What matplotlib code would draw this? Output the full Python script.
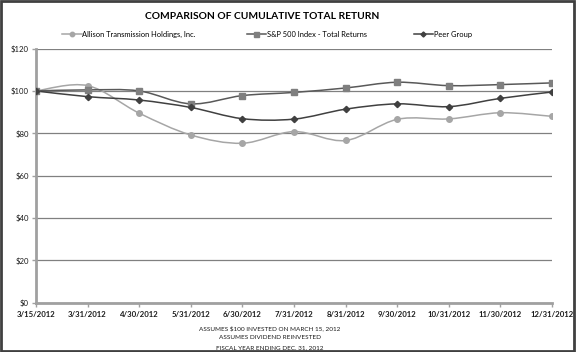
import matplotlib
matplotlib.use("Agg")
import matplotlib.pyplot as plt
import numpy as np
from matplotlib.path import Path
from matplotlib.patches import PathPatch, Rectangle
from matplotlib.lines import Line2D

dates = ["3/15/2012", "3/31/2012", "4/30/2012", "5/31/2012", "6/30/2012", "7/31/2012",
         "8/31/2012", "9/30/2012", "10/31/2012", "11/30/2012", "12/31/2012"]
allison = [100.0, 102.5, 89.5, 79.2, 75.3, 80.8, 76.6, 86.6, 86.8, 89.7, 88.0]
sp500 = [100.0, 100.5, 100.0, 93.9, 97.8, 99.3, 101.4, 104.1, 102.5, 103.0, 103.8]
peer = [100.0, 97.3, 95.7, 92.2, 86.9, 86.7, 91.4, 93.9, 92.6, 96.5, 99.5]
yticks = [0, 20, 40, 60, 80, 100, 120]
ytick_labels = ["$0", "$20", "$40", "$60", "$80", "$100", "$120"]
series_names = ["Allison Transmission Holdings, Inc.", "S&P 500 Index - Total Returns", "Peer Group"]
title = "COMPARISON OF CUMULATIVE TOTAL RETURN"
footnotes = ["ASSUMES $100 INVESTED ON MARCH 15, 2012", "ASSUMES DIVIDEND REINVESTED",
             "FISCAL YEAR ENDING DEC. 31, 2012"]

plt.rcParams['font.family'] = ['Lato', 'DejaVu Sans']
narrow = ['Liberation Sans Narrow', 'Lato', 'DejaVu Sans']

fig = plt.figure(figsize=(5.76, 3.52), dpi=100)
fig.patch.set_facecolor("white")
fig.patches.append(Rectangle((0.002, 0.003), 0.995, 0.994, transform=fig.transFigure,
                             fill=False, edgecolor="#404040", linewidth=2.0))

ax = fig.add_axes([0.0625, 0.14, 0.896, 0.722])


def smooth_path(xs, ys, t=1/6):
    xs = np.asarray(xs, float)
    ys = np.asarray(ys, float)
    n = len(xs)
    verts = [(xs[0], ys[0])]
    codes = [Path.MOVETO]
    for i in range(n - 1):
        p0 = (xs[max(i - 1, 0)], ys[max(i - 1, 0)])
        p1 = (xs[i], ys[i])
        p2 = (xs[i + 1], ys[i + 1])
        p3 = (xs[min(i + 2, n - 1)], ys[min(i + 2, n - 1)])
        c1 = (p1[0] + (p2[0] - p0[0]) * t, p1[1] + (p2[1] - p0[1]) * t)
        c2 = (p2[0] - (p3[0] - p1[0]) * t, p2[1] - (p3[1] - p1[1]) * t)
        verts += [c1, c2, p2]
        codes += [Path.CURVE4] * 3
    return Path(verts, codes)


x = np.arange(len(dates))
styles = [
    (allison, "#a6a6a6", "o", 4.0, "#a6a6a6"),
    (sp500, "#595959", "s", 4.5, "#7f7f7f"),
    (peer, "#404040", "D", 3.2, "#404040"),
]
legend_x = [0.108, 0.428, 0.718]
for (vals, col, mk, ms, mfc), name, lx in zip(styles, series_names, legend_x):
    ax.add_patch(PathPatch(smooth_path(x, vals), facecolor="none", edgecolor=col,
                           linewidth=1.1, zorder=3))
    ax.plot(x, vals, linestyle="none", marker=mk, markersize=ms, color=mfc,
            markeredgecolor=mfc, zorder=4)
    h = Line2D([], [], color=col, linewidth=1.1, marker=mk, markersize=ms * 0.8,
               markerfacecolor=mfc, markeredgecolor=mfc)
    fig.legend([h], [name], loc="center left", bbox_to_anchor=(lx, 0.903), frameon=False,
               fontsize=5.4, handlelength=2.6, handletextpad=0.1, borderpad=0,
               borderaxespad=0)

ax.set_xlim(0, len(dates) - 1)
ax.set_ylim(0, 120)
ax.set_yticks(yticks)
ax.set_yticklabels(ytick_labels, fontsize=5.6, color="#1a1a1a")
ax.set_xticks(x)
ax.set_xticklabels(dates, fontsize=5.6, fontweight="bold", color="#1a1a1a",
                   family=narrow)
ax.yaxis.grid(True, color="#808080", linewidth=0.9)
ax.set_axisbelow(True)
for s in ["top", "right"]:
    ax.spines[s].set_visible(False)
for s in ["left", "bottom"]:
    ax.spines[s].set_color("#a0a0a0")
    ax.spines[s].set_linewidth(2.0)
ax.tick_params(axis="x", length=3, color="#a0a0a0", width=1, pad=3)
ax.tick_params(axis="y", length=3, color="#a0a0a0", width=1, pad=2)

fig.text(0.455, 0.952, title, ha="center", va="center", fontsize=7.4, fontweight="bold",
         color="#000000")

for i, line in enumerate(footnotes):
    fig.text(0.468, 0.068 - i * 0.028, line, ha="center", va="center", fontsize=4.6,
             color="#1a1a1a", family=narrow)

fig.savefig("out.png", dpi=100)
